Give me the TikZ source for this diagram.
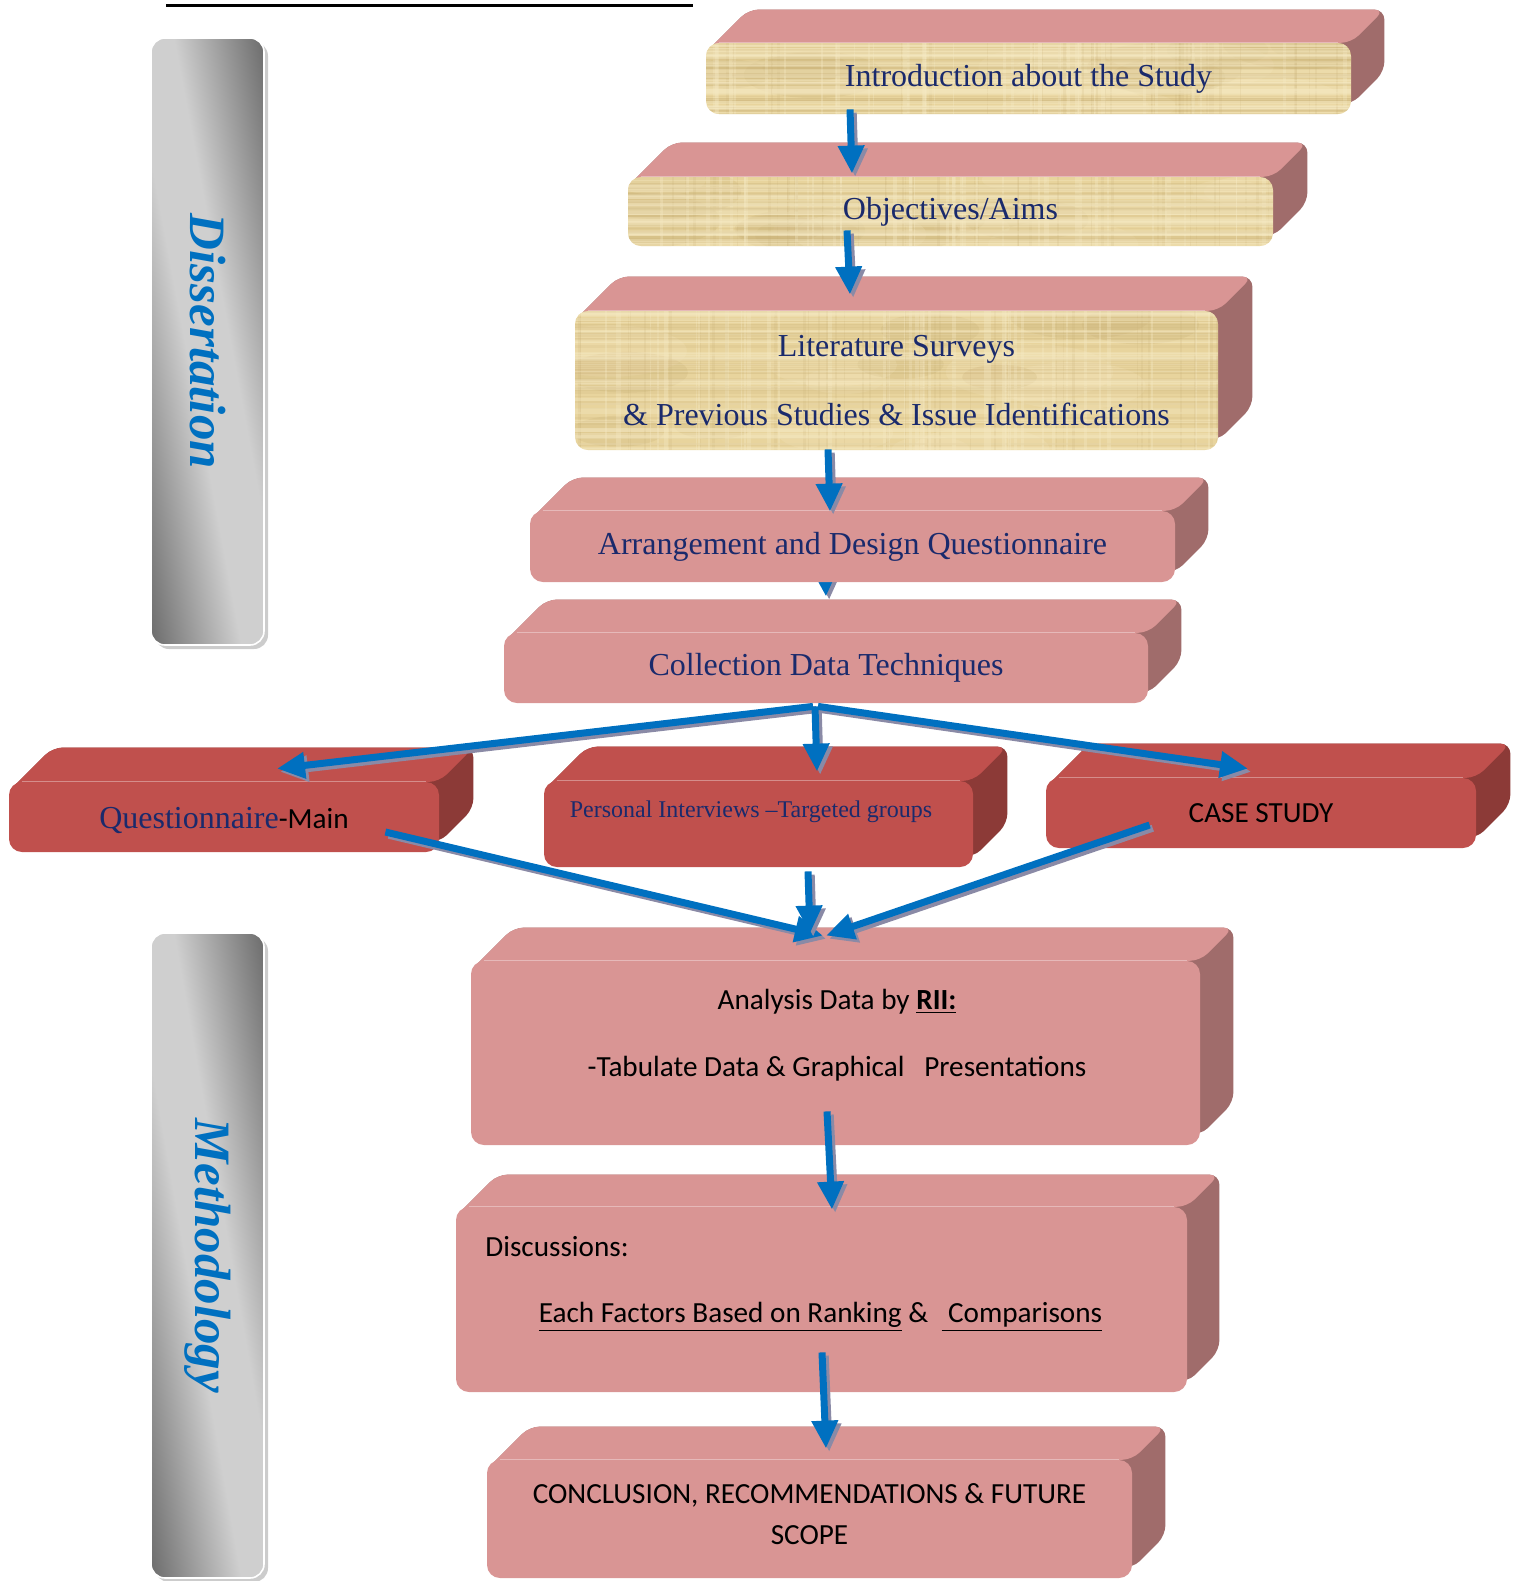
\documentclass[tikz,border=0pt]{standalone}
\usepackage{fontspec}
\setmainfont{Liberation Serif}
\newfontfamily\calfont{Carlito}
\usetikzlibrary{calc,arrows.meta}

\definecolor{pinkF}{HTML}{D99594}
\definecolor{pinkS}{HTML}{A06C6B}
\definecolor{redF}{HTML}{C0504D}
\definecolor{redS}{HTML}{8C3A37}
\definecolor{papyrus}{HTML}{E8D49D}
\definecolor{paplight}{HTML}{F6EAC4}
\definecolor{papdark}{HTML}{C7AE74}
\definecolor{navy}{HTML}{1A2A6C}
\definecolor{flowblue}{HTML}{0070C0}
\definecolor{arrshade}{HTML}{8A8AA6}
\definecolor{barlight}{HTML}{CFCFCF}
\definecolor{bardark}{HTML}{6C6C6C}

\pgfdeclarelayer{under}
\pgfdeclarelayer{faces}
\pgfdeclarelayer{over}
\pgfsetlayers{under,faces,main,over}

\pgfdeclarehorizontalshading{barshade}{100bp}{color(0bp)=(bardark); color(25bp)=(bardark); color(45bp)=(barlight); color(55bp)=(barlight); color(75bp)=(bardark); color(100bp)=(bardark)}

\newcommand\serifbig{\fontsize{16pt}{19pt}\selectfont}
\newcommand\sansf{\calfont\fontsize{14.6pt}{17pt}\selectfont}
\newcommand\barfont{\fontsize{25.5pt}{30pt}\selectfont\bfseries\itshape}

\tikzset{
  size/.style 2 args={minimum width=#1*0.5pt, minimum height=#2*0.5pt},
  face/.style={rectangle, rounded corners=6.5pt, inner sep=0pt, text=navy, font=\serifbig},
  papyrus/.style={fill=papyrus, path picture={
    \foreach \k in {1,...,16}{
      \pgfmathsetmacro\bu{rnd}\pgfmathsetmacro\bv{rnd}\pgfmathsetmacro\br{5+9*rnd}
      \fill[\ifodd\k paplight\else papdark\fi, opacity=0.22]
        ($($(path picture bounding box.north west)!\bu!(path picture bounding box.north east)$)!\bv!($(path picture bounding box.south west)!\bu!(path picture bounding box.south east)$)$)
        ellipse [x radius={3*\br*1pt}, y radius={\br*1pt}];
    }
    \foreach \k in {1,...,40}{
      \pgfmathsetmacro\pu{rnd}\pgfmathsetmacro\pw{0.4+1.8*rnd}
      \draw[draw=paplight, line width=\pw pt, opacity=0.35]
        ($(path picture bounding box.north west)!\pu!(path picture bounding box.north east)$) --
        ($(path picture bounding box.south west)!\pu!(path picture bounding box.south east)$);
      \pgfmathsetmacro\pv{rnd}\pgfmathsetmacro\px{0.3+1.2*rnd}
      \draw[draw=papdark, line width=\px pt, opacity=0.16]
        ($(path picture bounding box.north west)!\pv!(path picture bounding box.north east)$) --
        ($(path picture bounding box.south west)!\pv!(path picture bounding box.south east)$);
      \pgfmathsetmacro\pa{rnd}\pgfmathsetmacro\pb{0.3+1.2*rnd}
      \draw[draw=papdark, line width=\pb pt, opacity=0.16]
        ($(path picture bounding box.north west)!\pa!(path picture bounding box.south west)$) --
        ($(path picture bounding box.north east)!\pa!(path picture bounding box.south east)$);
      \pgfmathsetmacro\pc{rnd}\pgfmathsetmacro\pd{0.4+1.8*rnd}
      \draw[draw=paplight, line width=\pd pt, opacity=0.35]
        ($(path picture bounding box.north west)!\pc!(path picture bounding box.south west)$) --
        ($(path picture bounding box.north east)!\pc!(path picture bounding box.south east)$);
    }}},
  flow/.style={draw=flowblue, line width=3.5pt, -{Triangle[width=12.5pt,length=14pt]}},
  flowshade/.style={draw=arrshade, line width=3.5pt, -{Triangle[width=12.5pt,length=14pt]},
    transform canvas={shift={(1.6pt,-1.6pt)}}},
}

% top and right faces of a block behind its front node: node, depth, top colour, side colour
\newcommand\slab[4]{%
  \begin{pgfonlayer}{faces}
    \fill[#4, rounded corners=5pt] ($(#1.north west)+(0,10)$) -- ($(#1.north west)+(#2+10,-#2)$)
      -- ($(#1.north east)+(#2,-#2)$) -- ($(#1.south east)+(#2,-#2-10)$) -- ($(#1.south east)+(0,-10)$) -- cycle;
    \fill[#3, rounded corners=5pt] ($(#1.north west)+(0,10)$) -- ($(#1.north west)+(#2+10,-#2)$)
      -- ($(#1.north east)+(#2,-#2)$) -- (#1.north east) -- cycle;
  \end{pgfonlayer}
  \draw[white, opacity=0.35, line width=0.6pt] ($(#1.north west)+(13,0)$) -- ($(#1.north east)+(-13,0)$);
}

% blue connector with its drop shadow
\newcommand\flowarrow[2]{\draw[flowshade] #1 -- #2; \draw[flow] #1 -- #2;}

\begin{document}
\begin{tikzpicture}[x=0.5pt,y=-0.5pt]
\useasboundingbox (0,0) rectangle (1521,1581);
\pgfmathsetseed{21}

% rule at the top
\draw[line width=1.5pt] (166,5.5) -- (693,5.5);

% grey side bars
\fill[black!20, rounded corners=7pt] (155,42) rectangle (268,649);
\begin{scope}
  \clip[rounded corners=7pt] (151,38) rectangle (264,645);
  \begin{scope}[transform canvas={rotate around={10.55:(207.5,341.5)}}]
    \shade[shading=barshade] (96.5,-30) rectangle (318.5,713);
  \end{scope}
\end{scope}
\draw[white, line width=0.8pt, rounded corners=7pt] (151,38) rectangle (264,645);
\node[rotate=-90, text=flowblue, font=\barfont, inner sep=0pt] (disstext) at (207.5,341.5) {Dissertation};

\fill[black!20, rounded corners=7pt] (155,937) rectangle (268,1582);
\begin{scope}
  \clip[rounded corners=7pt] (151,933) rectangle (264,1578);
  \begin{scope}[transform canvas={rotate around={9.94:(207.5,1255.5)}}]
    \shade[shading=barshade] (96.2,865) rectangle (318.8,1646);
  \end{scope}
\end{scope}
\draw[white, line width=0.8pt, rounded corners=7pt] (151,933) rectangle (264,1578);
\node[rotate=-90, text=flowblue, font=\barfont, inner sep=0pt] (methtext) at (207.5,1255.5) {Methodology};

% blocks
\node[face, papyrus, size={645}{71}] (intro) at (1028.5,78.5) {Introduction about the Study};
\slab{intro}{33}{pinkF}{pinkS}
\node[face, papyrus, size={645}{69}] (obj) at (950.5,211.5) {Objectives/Aims};
\slab{obj}{34}{pinkF}{pinkS}
\node[face, papyrus, size={643}{139}, align=center, font=\fontsize{16pt}{34.5pt}\selectfont] (lit) at (896.5,380.5)
  {Literature Surveys\\\& Previous Studies \& Issue Identifications};
\slab{lit}{34}{pinkF}{pinkS}
\node[face, fill=pinkF, size={645}{71}] (arr) at (852.5,546.5) {Arrangement and Design Questionnaire};
\slab{arr}{33}{pinkF}{pinkS}
\node[face, fill=pinkF, size={644}{70}] (col) at (826,668) {Collection Data Techniques};
\slab{col}{33}{pinkF}{pinkS}

\node[face, fill=redF, size={430}{70}] (q) at (224,817) {};
\slab{q}{34}{redF}{redS}
\node[text=navy, font=\serifbig, inner sep=0pt] (qlabel) at (224,820) {Questionnaire{\sansf\color{black}-Main}};
\node[face, fill=redF, size={429}{86}] (p) at (758.5,824) {};
\slab{p}{34}{redF}{redS}
\node[text=navy, font=\fontsize{12pt}{14pt}\selectfont, inner sep=0pt] (plabel) at (751,812) {Personal Interviews –Targeted groups};
\node[face, fill=redF, size={430}{70}, text=black, font=\sansf] (c) at (1261,813) {CASE STUDY};
\slab{c}{34}{redF}{redS}

\node[face, fill=pinkF, size={729}{184}] (ana) at (835.5,1053) {};
\slab{ana}{33}{pinkF}{pinkS}
\node[align=center, inner sep=0pt, font=\calfont\fontsize{14.6pt}{33.5pt}\selectfont] (analabel) at (837,1035)
  {Analysis Data by \textbf{\underline{RII:}}\\-Tabulate Data \& Graphical\ \ \ Presentations};

\node[face, fill=pinkF, size={731}{185}] (dis) at (821.5,1299.5) {};
\slab{dis}{32}{pinkF}{pinkS}
\node[anchor=west, inner sep=0pt, font=\sansf] (dishead) at (485,1247) {Discussions:};
\node[inner sep=0pt, font=\sansf] (disbody) at (820.5,1317)
  {\underline{Each Factors Based on Ranking} \&\ \ \underline{\ Comparisons}};

\node[face, fill=pinkF, size={645}{118}] (con) at (809.5,1519) {};
\slab{con}{33}{pinkF}{pinkS}
\node[align=center, inner sep=0pt, font=\calfont\fontsize{14.6pt}{20.5pt}\selectfont] (conlabel) at (809.5,1514)
  {CONCLUSION, RECOMMENDATIONS \& FUTURE\\SCOPE};

% connector hidden behind the blocks, only its tip shows in the gap
\begin{pgfonlayer}{under}
  \flowarrow{($(arr.south)+(-27.5,-12)$)}{($(col.north)+(0,-36)$)}
\end{pgfonlayer}

% connectors
\begin{pgfonlayer}{over}
  \flowarrow{($(intro.south)+(-178.5,-5)$)}{($(obj.north)+(-98.5,-3)$)}
  \flowarrow{($(obj.south)+(-103.5,-16)$)}{($(lit.north)+(-46.5,-16)$)}
  \flowarrow{($(lit.south)+(-68.5,-1)$)}{($(arr.north)+(-22.5,1)$)}
  \flowarrow{($(col.south)+(-13,3)$)}{($(q.north)+(53,-13)$)}
  \flowarrow{($(col.south)+(-11,3)$)}{($(p.north)+(58.5,-9)$)}
  \flowarrow{($(col.south)+(-8,3)$)}{($(c.north)+(-13,-9)$)}
  \flowarrow{($(q.east)+(-54,15)$)}{($(ana.north)+(-12.5,-25)$)}
  \flowarrow{($(p.south)+(49.5,4)$)}{($(ana.north)+(-25.5,-27)$)}
  \flowarrow{($(c.west)+(104,12)$)}{($(ana.north)+(-9.5,-25)$)}
  \flowarrow{($(ana.south)+(-8.5,-34)$)}{($(dis.north)+(10.5,3)$)}
  \flowarrow{($(dis.south)+(0.5,-40)$)}{($(con.north)+(16.5,-11)$)}
\end{pgfonlayer}
\end{tikzpicture}
\end{document}
